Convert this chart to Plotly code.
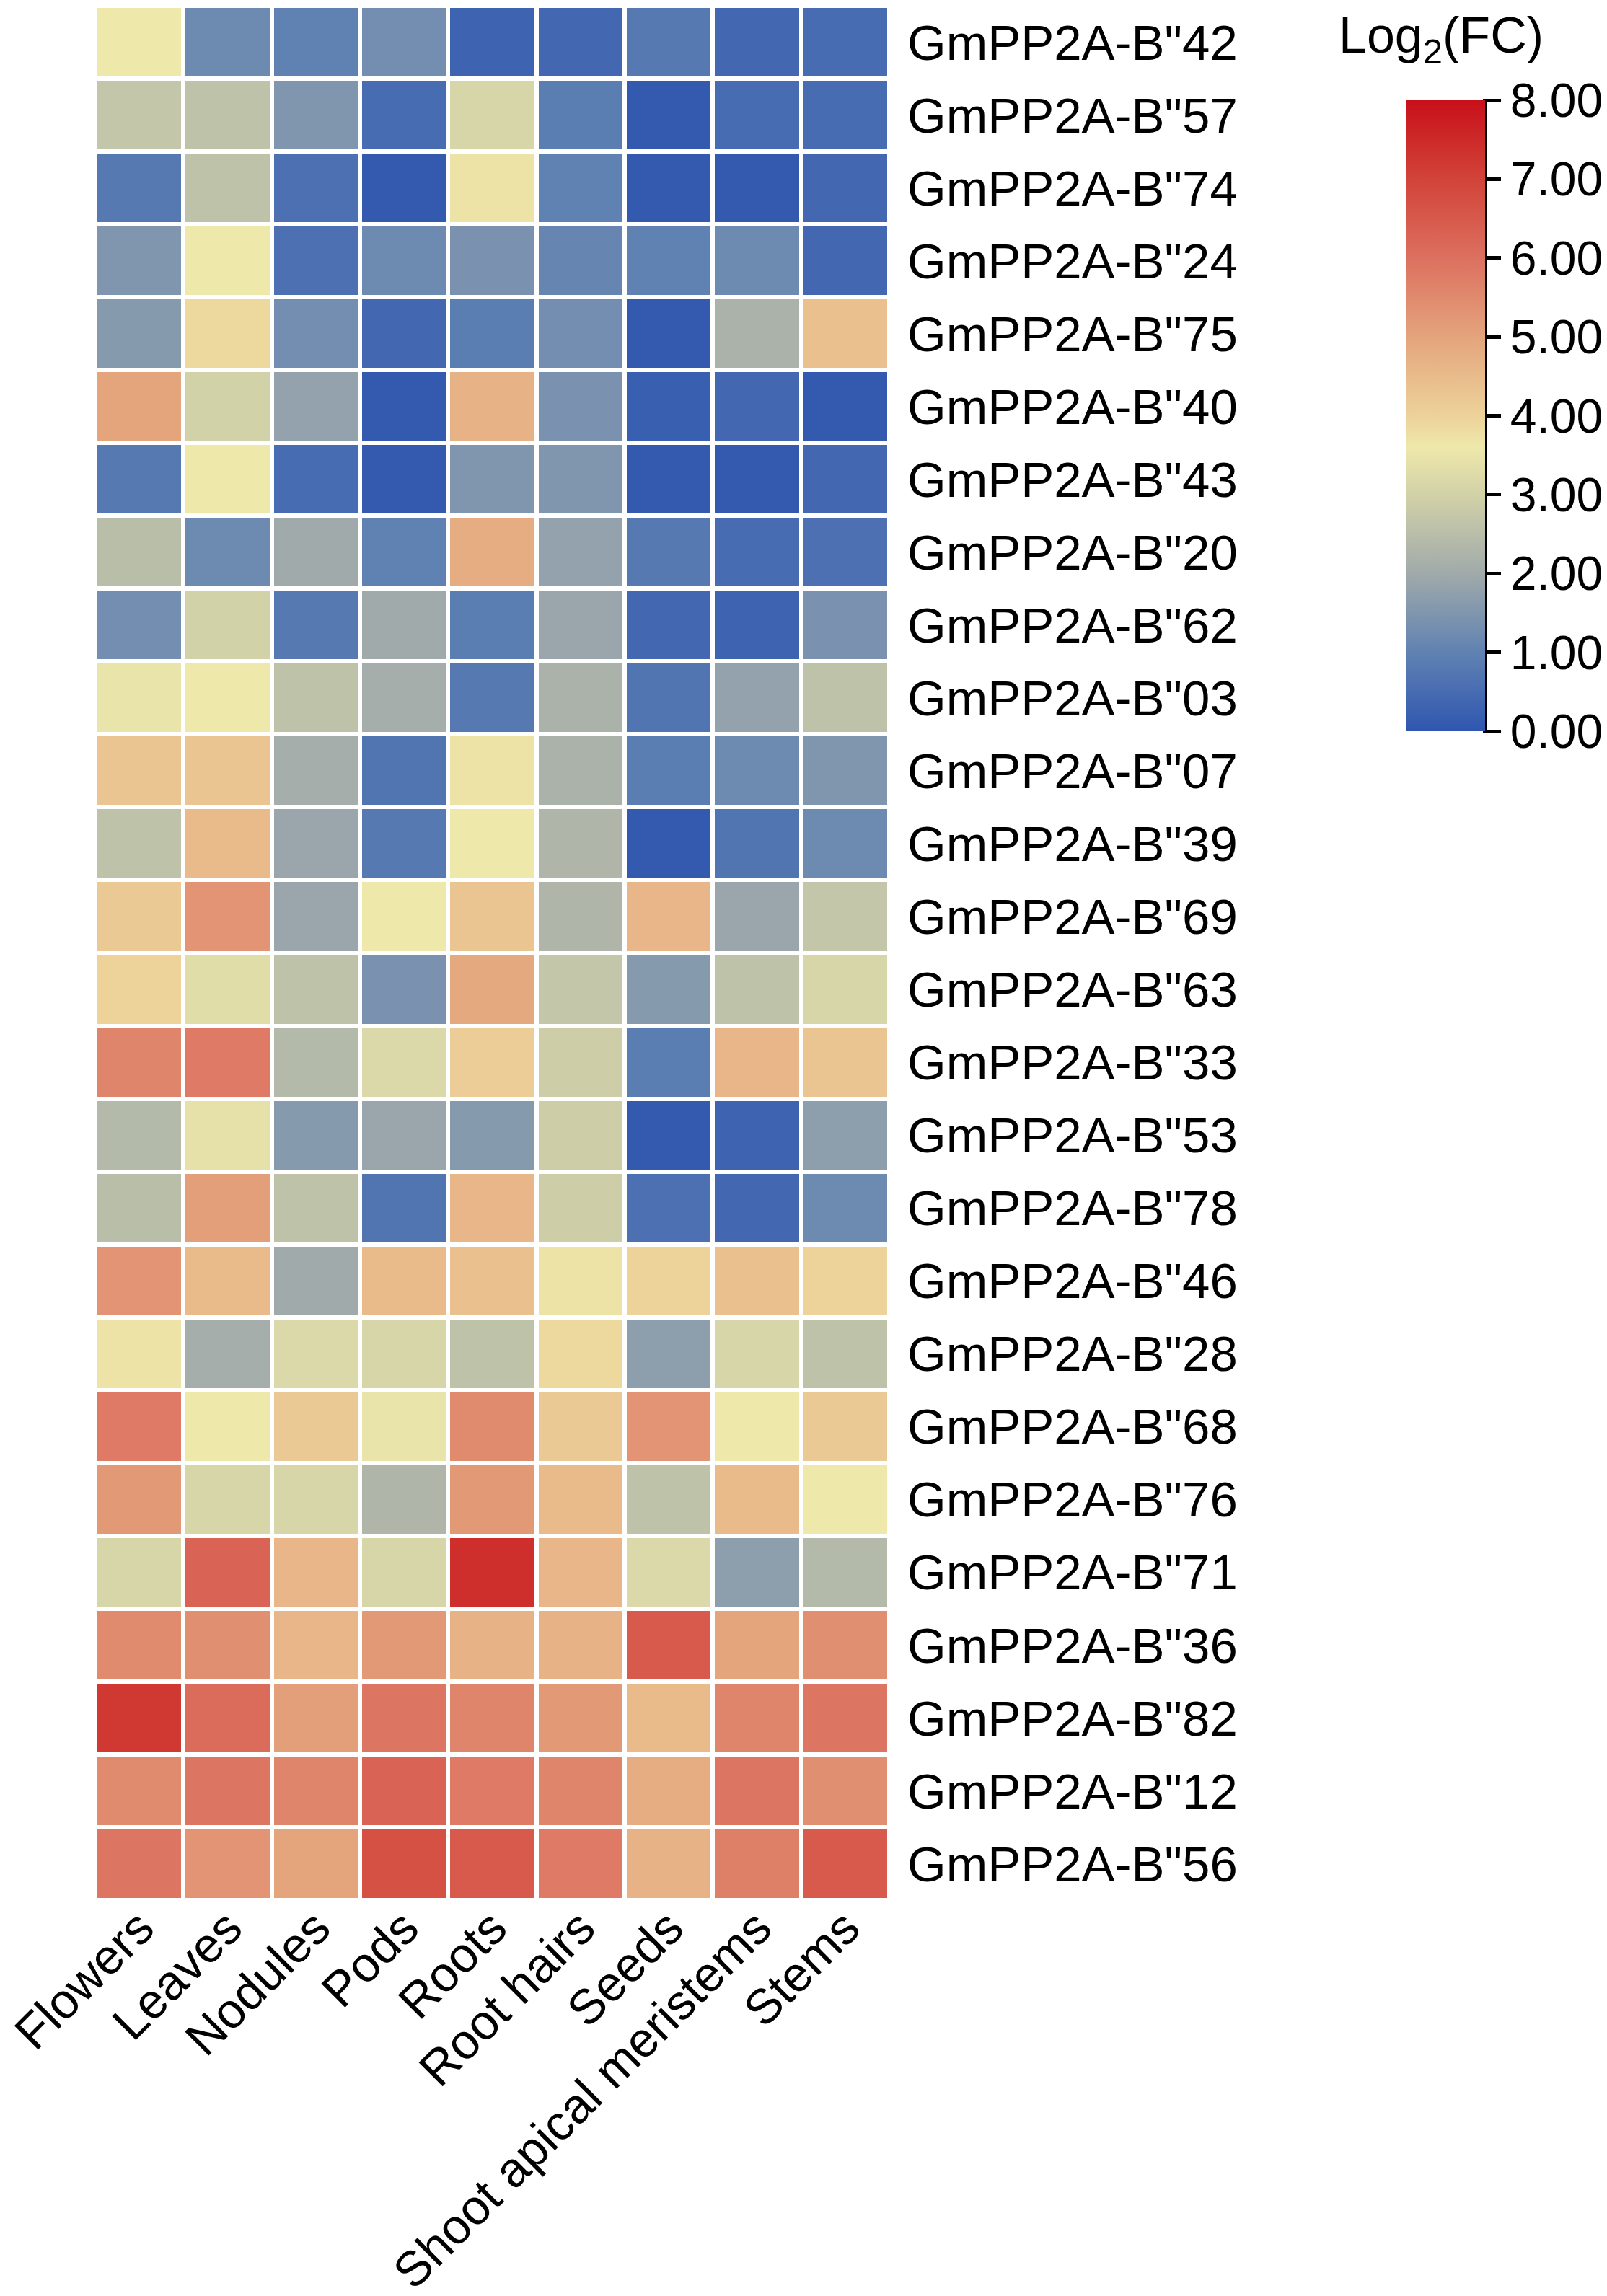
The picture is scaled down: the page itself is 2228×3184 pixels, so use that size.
import plotly.graph_objects as go

# tissues (columns) and genes (rows, top to bottom)
tissues = ["Flowers", "Leaves", "Nodules", "Pods", "Roots", "Root hairs",
           "Seeds", "Shoot apical meristems", "Stems"]
genes = ['GmPP2A-B"42', 'GmPP2A-B"57', 'GmPP2A-B"74', 'GmPP2A-B"24',
         'GmPP2A-B"75', 'GmPP2A-B"40', 'GmPP2A-B"43', 'GmPP2A-B"20',
         'GmPP2A-B"62', 'GmPP2A-B"03', 'GmPP2A-B"07', 'GmPP2A-B"39',
         'GmPP2A-B"69', 'GmPP2A-B"63', 'GmPP2A-B"33', 'GmPP2A-B"53',
         'GmPP2A-B"78', 'GmPP2A-B"46', 'GmPP2A-B"28', 'GmPP2A-B"68',
         'GmPP2A-B"76', 'GmPP2A-B"71', 'GmPP2A-B"36', 'GmPP2A-B"82',
         'GmPP2A-B"12', 'GmPP2A-B"56']

# log2(FC) values, one list per gene
log2fc = [
    [3.6, 1.2, 1.0, 1.3, 0.3, 0.4, 0.8, 0.4, 0.5],
    [2.7, 2.6, 1.5, 0.5, 3.1, 0.9, 0.1, 0.5, 0.5],
    [0.8, 2.6, 0.6, 0.1, 3.7, 1.0, 0.1, 0.1, 0.4],
    [1.5, 3.6, 0.6, 1.2, 1.4, 1.1, 1.0, 1.2, 0.4],
    [1.6, 3.9, 1.3, 0.4, 0.9, 1.3, 0.1, 2.2, 4.4],
    [5.0, 3.0, 1.8, 0.1, 4.7, 1.4, 0.2, 0.4, 0.1],
    [0.8, 3.6, 0.5, 0.1, 1.5, 1.5, 0.1, 0.1, 0.4],
    [2.5, 1.2, 2.0, 1.0, 4.8, 1.8, 0.8, 0.5, 0.6],
    [1.3, 3.0, 0.8, 2.0, 0.9, 1.9, 0.4, 0.3, 1.4],
    [3.5, 3.6, 2.6, 2.1, 0.8, 2.2, 0.7, 1.8, 2.6],
    [4.3, 4.3, 2.1, 0.7, 3.7, 2.2, 0.9, 1.2, 1.5],
    [2.6, 4.5, 1.9, 0.8, 3.6, 2.3, 0.1, 0.7, 1.2],
    [4.2, 5.3, 1.9, 3.6, 4.3, 2.3, 4.6, 1.9, 2.7],
    [4.0, 3.3, 2.6, 1.4, 4.9, 2.7, 1.6, 2.6, 3.1],
    [5.6, 5.8, 2.4, 3.2, 4.1, 2.9, 0.9, 4.6, 4.3],
    [2.4, 3.4, 1.6, 1.9, 1.6, 2.9, 0.1, 0.3, 1.7],
    [2.5, 5.1, 2.6, 0.7, 4.6, 2.9, 0.6, 0.4, 1.2],
    [5.3, 4.5, 2.0, 4.5, 4.4, 3.7, 4.0, 4.4, 4.0],
    [3.7, 2.1, 3.2, 3.1, 2.6, 3.9, 1.7, 3.1, 2.6],
    [5.8, 3.6, 4.2, 3.5, 5.5, 4.2, 5.3, 3.6, 4.2],
    [5.2, 3.1, 3.1, 2.3, 5.2, 4.5, 2.6, 4.5, 3.6],
    [3.1, 6.3, 4.6, 3.1, 7.4, 4.6, 3.2, 1.7, 2.4],
    [5.5, 5.4, 4.6, 5.2, 4.7, 4.7, 6.5, 5.0, 5.4],
    [7.2, 6.1, 5.1, 5.9, 5.6, 5.2, 4.5, 5.6, 5.9],
    [5.5, 5.9, 5.6, 6.3, 5.8, 5.6, 4.8, 5.9, 5.4],
    [5.9, 5.3, 5.0, 6.7, 6.5, 5.8, 4.7, 5.7, 6.5],
]

colorscale = [
    [0.0, "#2F56B0"],
    [0.125, "#6082B2"],
    [0.25, "#A0AAAA"],
    [0.375, "#D2D2A8"],
    [0.45, "#EEE8AA"],
    [0.5, "#EDD29A"],
    [0.625, "#E4A47C"],
    [0.75, "#DC7060"],
    [0.875, "#D24338"],
    [1.0, "#C8101A"],
]

FONT = "Liberation Sans, Arial, sans-serif"

W, H = 2228, 3184
L, R, T, B = 124, 1003, 0, 557
pw, ph = W - L - R, H - T - B

cb_left, cb_top, cb_len, cb_thick = 1941, 131, 875, 110

fig = go.Figure(go.Heatmap(
    z=log2fc, x=tissues, y=genes,
    colorscale=colorscale, zmin=0, zmax=8,
    xgap=6, ygap=6,
    colorbar=dict(
        x=(cb_left - L) / pw, xanchor="left",
        y=(H - B - cb_top) / ph, yanchor="top",
        len=cb_len, lenmode="pixels",
        thickness=cb_thick, thicknessmode="pixels",
        outlinewidth=0, xpad=0, ypad=0,
        tickmode="linear", tick0=0, dtick=1, tickformat=".2f",
        ticks="outside", ticklen=22, tickwidth=5, tickcolor="black",
        tickfont=dict(family=FONT, size=66, color="black"),
    ),
))

# black axis line on the right side of the colour bar
cb_x = (cb_left + cb_thick - L) / pw
fig.add_shape(type="line", xref="paper", yref="paper",
              x0=cb_x, x1=cb_x,
              y0=(H - B - cb_top) / ph + 2 / ph,
              y1=(H - B - cb_top - cb_len) / ph - 2 / ph,
              line=dict(color="black", width=6))

fig.add_annotation(
    text="Log<sub>2</sub>(FC)", xref="paper", yref="paper",
    x=(1990 - L) / pw, y=(H - B - 46) / ph,
    xanchor="center", yanchor="middle", showarrow=False,
    font=dict(family=FONT, size=70, color="black"),
)

fig.update_layout(
    width=W, height=H,
    margin=dict(l=L, r=R, t=T, b=B, autoexpand=False),
    paper_bgcolor="white", plot_bgcolor="white",
    font=dict(family=FONT, color="black"),
)
fig.update_xaxes(
    tickangle=-45, tickfont=dict(family=FONT, size=68),
    showgrid=False, zeroline=False, showline=False, ticks="",
    ticklabelstandoff=-16, automargin=False,
)
fig.update_yaxes(
    side="right", autorange="reversed",
    tickfont=dict(family=FONT, size=69),
    showgrid=False, zeroline=False, showline=False, ticks="",
    ticklabelstandoff=24, automargin=False,
)

fig.write_html("out.html")
